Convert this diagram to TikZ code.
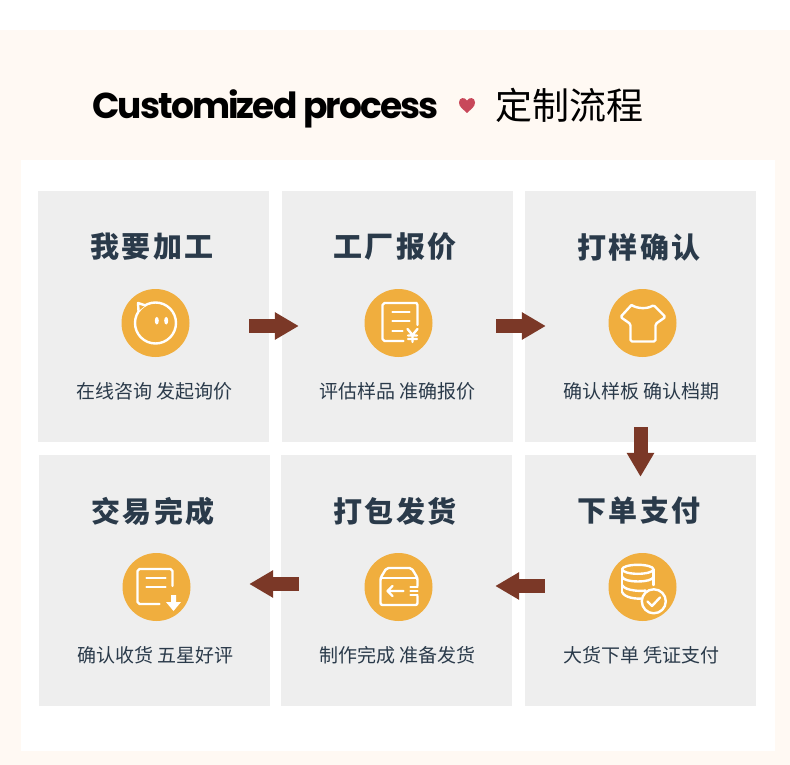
\documentclass[tikz,border=0pt]{standalone}
\usepackage{fontspec}
\usepackage{xcolor}
\usetikzlibrary{arrows.meta}
\newfontfamily\cjk{Noto Sans CJK SC}
\newfontfamily\cjkhead[LetterSpace=9]{Noto Sans CJK SC}
\newfontfamily\latinhead[LetterSpace=-5.3]{Poppins}
\definecolor{creambg}{HTML}{FFF9F3}
\definecolor{boxgrey}{HTML}{EEEEEE}
\definecolor{iconorange}{HTML}{F0AE3E}
\definecolor{arrowbrown}{HTML}{7B3827}
\definecolor{inkblue}{HTML}{2A3A4A}
\definecolor{heartred}{HTML}{C8485A}
\tikzset{
  stepbox/.style={fill=boxgrey, minimum width=231pt, minimum height=251pt, inner sep=0pt},
  stephead/.style={text=inkblue, inner sep=0pt, font=\cjkhead\bfseries\fontsize{29}{32}\selectfont},
  stepnote/.style={text=inkblue, inner sep=0pt, font=\cjk\fontsize{19}{22}\selectfont},
  iconball/.style={circle, fill=iconorange, minimum size=68pt, inner sep=0pt},
  iconline/.style={draw=white, line width=2.4pt, line cap=round, line join=round},
  flowarrow/.style={draw=arrowbrown, line width=14pt, -{Triangle[length=24pt, width=26pt, fill=arrowbrown]}}
}
\begin{document}
\begin{tikzpicture}[x=1pt, y=-1pt]
\useasboundingbox (0,0) rectangle (790,765);
\fill[white] (0,0) rectangle (790,30);
\fill[creambg] (0,30) rectangle (790,765);
\fill[white] (21,160) rectangle (775,751);

% title row
\node[anchor=west, inner sep=0pt, font=\latinhead\bfseries\fontsize{36}{40}\selectfont] (titlelatin) at (92,109) {Customized process};
\node[anchor=west, inner sep=0pt, font=\cjk\fontsize{37}{40}\selectfont] (titlecjk) at (495,105) {定制流程};
\fill[heartred] (467,113) .. controls (463,109) and (459,107) .. (459,102.5) .. controls (459,97) and (465,97) .. (467,100.5) .. controls (469,97) and (475,97) .. (475,102.5) .. controls (475,107) and (471,109) .. (467,113) -- cycle;

% grey boxes
\node[stepbox] (ask) at (153.5,316.5) {};
\node[stepbox] (quote) at (397.5,316.5) {};
\node[stepbox] (sample) at (640.5,316.5) {};
\node[stepbox] (pay) at (640.5,580.5) {};
\node[stepbox] (pack) at (396.5,580.5) {};
\node[stepbox] (done) at (154.5,580.5) {};

% headings
\node[stephead] (askhead) at (152,247) {我要加工};
\node[stephead] (quotehead) at (395,247) {工厂报价};
\node[stephead] (samplehead) at (639,247) {打样确认};
\node[stephead] (payhead) at (639,511) {下单支付};
\node[stephead] (packhead) at (395,511) {打包发货};
\node[stephead] (donehead) at (153,511) {交易完成};

% captions
\node[stepnote] (asknote) at (154.5,391) {在线咨询 发起询价};
\node[stepnote] (quotenote) at (397.5,391) {评估样品 准确报价};
\node[stepnote] (samplenote) at (641.5,391) {确认样板 确认档期};
\node[stepnote] (paynote) at (641.5,655) {大货下单 凭证支付};
\node[stepnote] (packnote) at (397.5,655) {制作完成 准备发货};
\node[stepnote] (donenote) at (155.5,655) {确认收货 五星好评};

% icon discs
\node[iconball] (askicon) at (155.5,323) {};
\node[iconball] (quoteicon) at (398.5,323) {};
\node[iconball] (sampleicon) at (642.5,323) {};
\node[iconball] (payicon) at (642.5,587) {};
\node[iconball] (packicon) at (398.5,587) {};
\node[iconball] (doneicon) at (156.5,587) {};

% bubble
\begin{scope}[shift={(askicon.center)}]
\draw[iconline] (0,0) circle (20.5);
\filldraw[iconline, fill=iconorange] (-10,-17.5) -- (-17.5,-20) -- (-17,-12);
\fill[white] (1.3,-2.3) ellipse (2 and 3.8);
\fill[white] (10.7,-2.3) ellipse (2 and 3.8);
\end{scope}

% bill with yen sign
\begin{scope}[shift={(quoteicon.center)}]
\draw[iconline] (19,2) -- (19,-18) -- (18,-20) -- (-14,-20) -- (-16,-18) -- (-16,16) -- (-14,18) -- (5,18);
\draw[iconline] (-6,-11) -- (11,-11);
\draw[iconline] (-6,-2) -- (11,-2);
\draw[iconline] (-6,8) -- (4,8);
\draw[iconline] (9,6) -- (14,12) -- (19,6) (14,12) -- (14,19) (9.5,12.5) -- (18.5,12.5) (9.5,16) -- (18.5,16);
\end{scope}

% shirt
\begin{scope}[shift={(sampleicon.center)}]
\draw[iconline, rounded corners=1.5pt] (-11,-18) -- (-22,-6) -- (-12,1) -- (-12,18.5) -- (13,18.5) -- (13,1) -- (23,-6) -- (11,-18) .. controls (5,-14) and (-5,-14) .. (-11,-18);
\end{scope}

% coins with tick
\begin{scope}[shift={(payicon.center)}]
\draw[iconline] (-4.7,-17.7) ellipse (15.7 and 4.5);
\draw[iconline] (-20.4,-17.7) -- (-20.4,5);
\draw[iconline] (11,-17.7) -- (11,-2);
\draw[iconline] (-20.4,-10) .. controls (-18,-4) and (9,-4) .. (11,-10);
\draw[iconline] (-20.4,-2) .. controls (-18,4) and (0,4.5) .. (3,3.5);
\draw[iconline] (-20.4,5) .. controls (-18,11) and (-6,12) .. (-1,11.5);
\draw[iconline] (11.3,14.3) circle (12);
\draw[iconline] (5,14.5) -- (9.5,19) -- (17.5,10.5);
\end{scope}

% parcel
\begin{scope}[shift={(packicon.center)}]
\draw[iconline, rounded corners=2pt] (19,-1) -- (19,-9) -- (13,-19) -- (-12,-19) -- (-18,-9) -- (-18,18) -- (19,18) -- (19,9);
\draw[iconline] (-18,-9) -- (19,-9);
\draw[iconline] (-11,4) -- (5,4) (-6,-1) -- (-11,4) -- (-6,9);
\draw[iconline] (12,0) -- (19,0) (12,4) -- (19,4) (12,8) -- (19,8);
\end{scope}

% bill with down arrow
\begin{scope}[shift={(doneicon.center)}]
\draw[iconline] (16,-1) -- (16,-16) -- (14,-18) -- (-17,-18) -- (-19,-16) -- (-19,15) -- (-17,17) -- (3,17);
\draw[iconline] (-10,-9) -- (9,-9);
\draw[iconline] (-10,0) -- (9,0);
\fill[white] (14.5,8) -- (19.5,8) -- (19.5,15) -- (24.5,15) -- (17,24) -- (9.5,15) -- (14.5,15) -- cycle;
\end{scope}

% flow arrows
\draw[flowarrow, shorten <=-20pt, shorten >=-17pt] ([yshift=-9.5pt]ask.east) -- ([yshift=-9.5pt]quote.west);
\draw[flowarrow, shorten <=-17pt, shorten >=-21pt] ([yshift=-9.5pt]quote.east) -- ([yshift=-9.5pt]sample.west);
\draw[flowarrow, shorten <=-15pt, shorten >=-22pt] (sample.south) -- (pay.north);
\draw[flowarrow, shorten <=-20pt, shorten >=-17pt] ([yshift=-5.5pt]pay.west) -- ([yshift=-5.5pt]pack.east);
\draw[flowarrow, shorten <=-18pt, shorten >=-21pt] ([yshift=-3.5pt]pack.west) -- ([yshift=-3.5pt]done.east);
\end{tikzpicture}
\end{document}
